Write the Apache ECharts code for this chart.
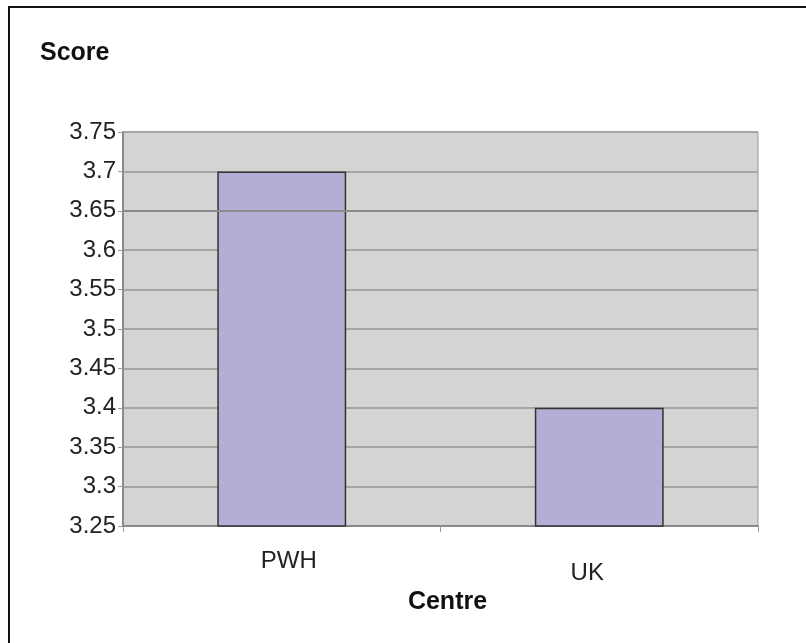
<!DOCTYPE html>
<html>
<head>
<meta charset="utf-8">
<script src="https://cdn.jsdelivr.net/npm/echarts@6/dist/echarts.min.js"></script>
<style>
  html, body { margin: 0; padding: 0; background: #fff; }
  #chart { width: 806px; height: 643px; }
</style>
</head>
<body>
<div id="chart"></div>
<script>
// Mean score per centre
const centres = ['PWH', 'UK'];
const scores = [3.7, 3.4];
const yMin = 3.25;
const yMax = 3.75;
const yStep = 0.05;

const FONT = '"Liberation Sans", Arial, sans-serif';

const chart = echarts.init(document.getElementById('chart'), null, { renderer: 'canvas' });

chart.setOption({
  backgroundColor: '#ffffff',
  animation: false,
  graphic: [
    {
      // frame around the whole chart
      type: 'rect',
      shape: { x: 9, y: 7, width: 900, height: 900 },
      style: { fill: 'none', stroke: '#111', lineWidth: 2 },
      silent: true
    },
    {
      type: 'text',
      left: 40,
      top: 41,
      style: { text: 'Score', font: 'bold 25px ' + FONT, fill: '#111' }
    }
  ],
  grid: {
    left: 123,
    right: 48,
    top: 132,
    bottom: 117,
    show: true,
    backgroundColor: '#d5d4d3',
    borderColor: '#999',
    borderWidth: 1
  },
  xAxis: {
    type: 'category',
    data: centres,
    name: 'Centre',
    nameLocation: 'middle',
    nameGap: 63,
    nameTextStyle: { fontFamily: FONT, fontWeight: 'bold', fontSize: 25, color: '#111', padding: [0, 0, 0, 14] },
    axisLine: { show: true, lineStyle: { color: '#8a8a8a', width: 2 } },
    axisTick: { show: true, alignWithLabel: false, length: 6, lineStyle: { color: '#999', width: 1 } },
    axisLabel: {
      margin: 23,
      fontFamily: FONT,
      fontSize: 24,
      color: '#222',
      formatter: function (v, i) { return i === 0 ? '{a|' + v + '}' : '{b|' + v + '}'; },
      rich: {
        a: { fontFamily: FONT, fontSize: 24, color: '#222', padding: [0, 0, 0, 14] },
        b: { fontFamily: FONT, fontSize: 24, color: '#222', padding: [12, 24, 0, 0] }
      }
    },
    splitLine: { show: false }
  },
  yAxis: {
    type: 'value',
    min: yMin,
    max: yMax,
    interval: yStep,
    axisLine: { show: true, lineStyle: { color: '#8a8a8a', width: 2 } },
    axisTick: { show: true, length: 5, lineStyle: { color: '#999', width: 1 } },
    axisLabel: {
      margin: 7,
      fontFamily: FONT,
      fontSize: 24,
      color: '#222',
      padding: [6, 0, 0, 0],
      formatter: function (v) { return String(parseFloat(v.toFixed(2))); }
    },
    splitLine: { show: true, lineStyle: { color: '#a6a5a4', width: 2 } }
  },
  series: [
    {
      type: 'bar',
      data: scores,
      barWidth: '40.6%',
      itemStyle: { color: '#b3aed6', borderColor: '#333', borderWidth: 1.5 },
      markLine: {
        silent: true,
        symbol: 'none',
        label: { show: false },
        lineStyle: { color: '#8c8b8a', width: 2, type: 'solid' },
        data: [{ yAxis: 3.65 }]
      }
    }
  ]
});
</script>
</body>
</html>
